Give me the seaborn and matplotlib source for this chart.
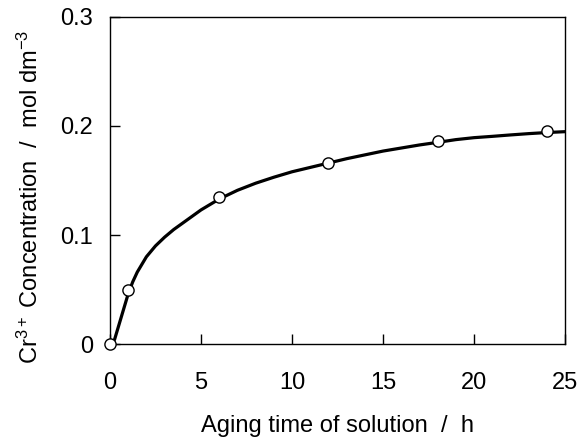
import pandas as pd
import seaborn as sns
import matplotlib.pyplot as plt

sns.set_theme(style="ticks")
plt.rcParams["font.family"] = ["Liberation Sans", "DejaVu Sans"]
plt.rcParams["mathtext.fontset"] = "custom"
plt.rcParams["mathtext.rm"] = "Liberation Sans"
plt.rcParams["mathtext.it"] = "Liberation Sans:italic"
plt.rcParams["text.color"] = "black"
plt.rcParams["axes.labelcolor"] = "black"
plt.rcParams["xtick.color"] = "black"
plt.rcParams["ytick.color"] = "black"

# measured points
aging_time = [0, 1, 6, 12, 18, 24]
cr_conc = [0.0, 0.050, 0.135, 0.166, 0.186, 0.195]

# fitted curve
curve_time = [0, 0.25, 0.5, 0.75, 1.0, 1.25, 1.5, 2.0, 2.5, 3.0, 3.5, 4.0,
              4.5, 5.0, 6.0, 7.0, 8.0, 9.0, 10.0, 11.0, 12.0, 13.0, 14.0,
              15.0, 16.0, 17.0, 18.0, 19.0, 20.0, 21.0, 22.0, 23.0, 24.0, 25.0]
curve_conc = [0.0, 0.004, 0.018, 0.032, 0.046, 0.057, 0.066, 0.080, 0.090,
              0.098, 0.105, 0.111, 0.117, 0.123, 0.133, 0.141, 0.1475, 0.153,
              0.158, 0.162, 0.166, 0.170, 0.1735, 0.177, 0.1798, 0.1826,
              0.185, 0.1875, 0.1893, 0.1905, 0.1918, 0.193, 0.194, 0.1948]

points = pd.DataFrame({"t": aging_time, "c": cr_conc})
curve = pd.DataFrame({"t": curve_time, "c": curve_conc})

fig = plt.figure(figsize=(5.85, 4.38), dpi=100)
ax = fig.add_axes([0.188, 0.2146, 0.778, 0.7466])

sns.lineplot(data=curve, x="t", y="c", ax=ax, color="black", linewidth=2.3)
sns.scatterplot(data=points, x="t", y="c", ax=ax, s=65, color="white",
                edgecolor="black", linewidth=1.0, zorder=5, clip_on=False)

ax.set_xlim(0, 25)
ax.set_ylim(0, 0.3)
ax.set_xticks([0, 5, 10, 15, 20, 25])
ax.set_yticks([0, 0.1, 0.2, 0.3])
ax.set_yticklabels(["0", "0.1", "0.2", "0.3"])
ax.tick_params(direction="in", length=7, width=1, labelsize=17)
ax.tick_params(axis="x", pad=20)
ax.tick_params(axis="y", pad=12)

for sp in ax.spines.values():
    sp.set_linewidth(1.0)
    sp.set_color("black")

ax.set_xlabel("Aging time of solution  /  h", fontsize=17, labelpad=15)
ax.set_ylabel(r"Cr$\mathregular{^{3+}}$ Concentration  /  mol dm$\mathregular{^{-3}}$",
              fontsize=17, labelpad=13)
ax.yaxis.label.set_y(0.45)

fig.savefig("out.png", dpi=100)
